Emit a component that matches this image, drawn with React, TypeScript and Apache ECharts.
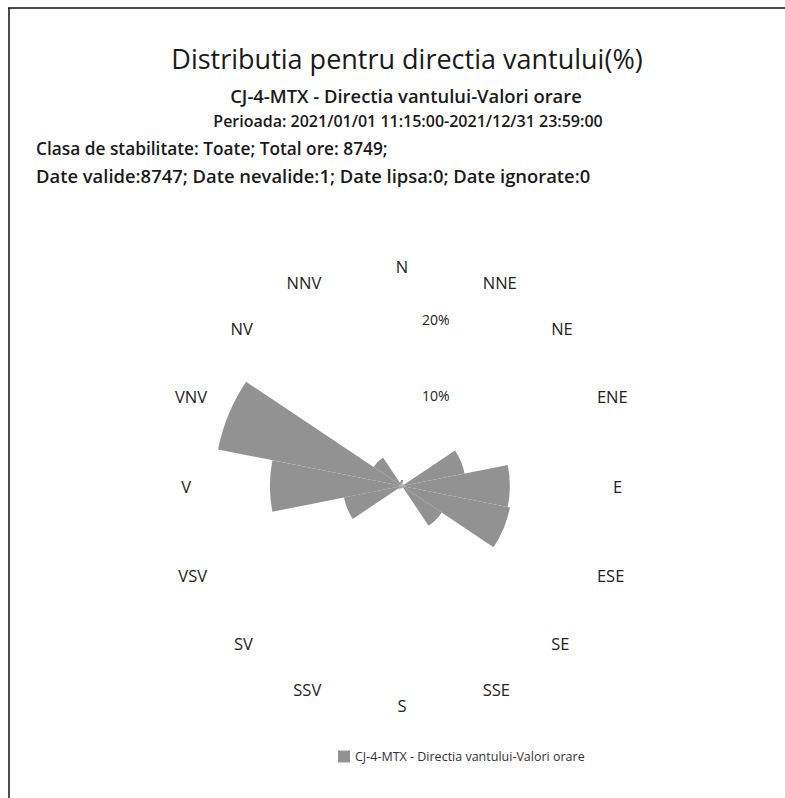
import React, { useEffect, useRef } from "react";
import * as echarts from "echarts";

const directions = ["N", "NNE", "NE", "ENE", "E", "ESE", "SE", "SSE", "S", "SSV", "SV", "VSV", "V", "VNV", "NV", "NNV"];
const frequencies = [0.8, 0.2, 0.3, 8.4, 14.2, 14.5, 6.3, 0.3, 0.2, 0.3, 0.5, 7.8, 17.4, 24.7, 4.5, 0.6];
const radiusTicks = [10, 20];
const seriesName = "CJ-4-MTX - Directia vantului-Valori orare";
const titleText = "Distributia pentru directia vantului(%)";
const subtitleLines = ["CJ-4-MTX - Directia vantului-Valori orare", "Perioada: 2021/01/01 11:15:00-2021/12/31 23:59:00"];
const infoLines = ["Clasa de stabilitate: Toate; Total ore: 8749;", "Date valide:8747; Date nevalide:1; Date lipsa:0; Date ignorate:0"];

const FONT = "'Open Sans', 'Noto Sans', sans-serif";
const RMAX = 27;

export default function App() {
  const ref = useRef<HTMLDivElement>(null);
  useEffect(() => {
    if (!ref.current) return;
    const chart = echarts.init(ref.current, null, { renderer: "svg" });
    const sub = (size: number) => ({ fontSize: size, fontWeight: 600, color: "#1a1a1a", fontFamily: FONT });
    chart.setOption({
      animation: false,
      backgroundColor: "#ffffff",
      textStyle: { fontFamily: FONT },
      title: [
        { text: titleText, left: 407, top: 45, padding: 0, textAlign: "center", textStyle: { fontSize: 27, fontWeight: 500, color: "#1a1a1a", fontFamily: FONT } },
        { text: subtitleLines[0], left: 406, top: 86, padding: 0, textAlign: "center", textStyle: sub(18.4) },
        { text: subtitleLines[1], left: 408, top: 113, padding: 0, textAlign: "center", textStyle: sub(16) },
        { text: infoLines[0], left: 36, top: 140, padding: 0, textStyle: sub(17.3) },
        { text: infoLines[1], left: 36, top: 166, padding: 0, textStyle: sub(18.4) },
      ],
      legend: {
        data: [seriesName],
        left: 338,
        top: 750,
        padding: 0,
        itemWidth: 12,
        itemHeight: 12,
        itemGap: 6,
        icon: "rect",
        textStyle: { fontSize: 12.5, color: "#333", fontFamily: FONT },
      },
      polar: [
        { center: [402, 486], radius: 205 },
        { center: [402, 486], radius: 205 },
      ],
      angleAxis: [
        {
          polarIndex: 0,
          type: "category",
          data: directions,
          startAngle: 90 + 11.25,
          clockwise: true,
          boundaryGap: true,
          axisLine: { show: false },
          axisTick: { show: false },
          splitLine: { show: false },
          axisLabel: { show: true, margin: 6, fontSize: 16.5, color: "#222", fontFamily: FONT },
        },
        {
          polarIndex: 1,
          type: "value",
          min: 0,
          max: 360,
          startAngle: 90,
          axisLine: { show: false },
          axisTick: { show: false },
          splitLine: { show: false },
          axisLabel: { show: false },
        },
      ],
      radiusAxis: [
        {
          polarIndex: 0,
          type: "value",
          min: 0,
          max: RMAX,
          interval: 10,
          axisLine: { show: false },
          axisTick: { show: false },
          splitLine: { show: false },
          axisLabel: { show: false },
        },
        {
          polarIndex: 1,
          type: "value",
          min: 0,
          max: RMAX,
          interval: 10,
          axisLine: { show: false },
          axisTick: { show: false },
          splitLine: { show: false },
          axisLabel: {
            show: true,
            showMinLabel: false,
            showMaxLabel: false,
            margin: -20,
            align: "left",
            verticalAlign: "bottom",
            padding: [0, 0, 8, 0],
            fontSize: 14,
            color: "#222",
            fontFamily: FONT,
            formatter: (v: number) => (radiusTicks.includes(v) ? v + "%" : ""),
          },
        },
      ],
      series: [
        {
          type: "bar",
          name: seriesName,
          coordinateSystem: "polar",
          polarIndex: 0,
          data: frequencies,
          barCategoryGap: "0%",
          itemStyle: { color: "#929292" },
        },
      ],
      graphic: [
        { type: "line", shape: { x1: 9, y1: 8, x2: 9, y2: 798 }, style: { stroke: "#111", lineWidth: 1.5 } },
        { type: "line", shape: { x1: 8, y1: 8, x2: 785, y2: 8 }, style: { stroke: "#111", lineWidth: 1.5 } },
      ],
    });
    return () => chart.dispose();
  }, []);
  return <div ref={ref} style={{ position: "absolute", left: 0, top: 0, width: 785, height: 798 }} />;
}
